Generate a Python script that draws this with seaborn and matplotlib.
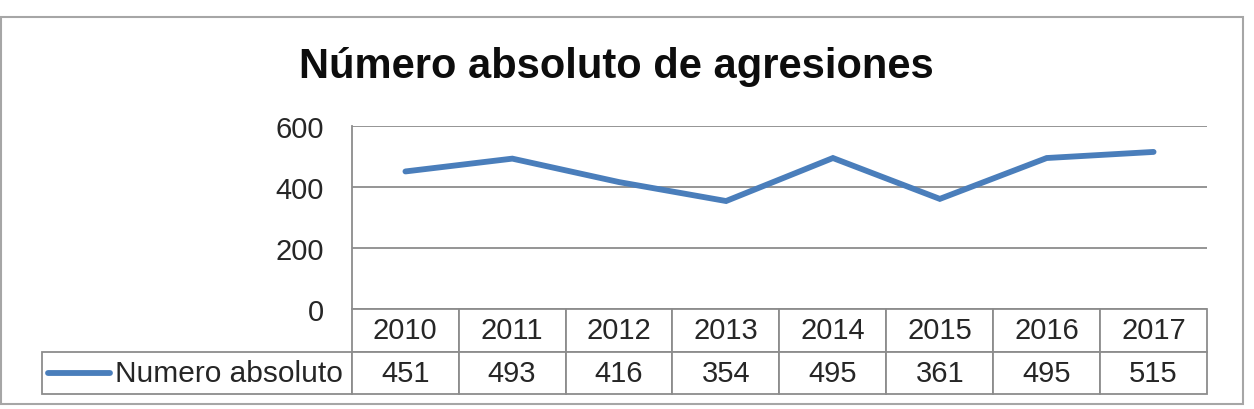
import matplotlib
matplotlib.use("Agg")
import matplotlib.pyplot as plt
import seaborn as sns
import pandas as pd
from matplotlib.patches import Rectangle

# --- data ---
years = ["2010", "2011", "2012", "2013", "2014", "2015", "2016", "2017"]
values = [451, 493, 416, 354, 495, 361, 495, 515]
series_name = "Numero absoluto"
title = "Número absoluto de agresiones"
yticks = [0, 200, 400, 600]

LINE_C = "#4A7EBB"
GRID_C = "#8C8C8C"
FS = 21

sns.set_theme(style="white")
plt.rcParams["font.family"] = ["Liberation Sans", "DejaVu Sans"]

W, H = 1254, 410
fig = plt.figure(figsize=(W / 100, H / 100), dpi=100)

# outer chart frame
fig.patches.append(Rectangle((1 / W, 1 - 405 / H), 1242 / W, 387 / H,
                             transform=fig.transFigure, fill=False,
                             edgecolor="#A6A6A6", lw=1.5))

# plot area (pixel box 352..1207 x 127..310)
ax = fig.add_axes([352 / W, 1 - 310 / H, 855 / W, 183 / H])

df = pd.DataFrame({"idx": range(len(years)), "val": values})
sns.lineplot(data=df, x="idx", y="val", ax=ax, color=LINE_C, lw=4.2,
             solid_capstyle="round", solid_joinstyle="miter")

ax.set_xlim(-0.5, len(years) - 0.5)
ax.set_ylim(0, 600)
ax.set_yticks(yticks)
ax.set_yticklabels([str(t) for t in yticks], fontsize=FS, color="#262626")
ax.tick_params(axis="y", length=0, pad=20)
ax.set_xticks([])
ax.set_xlabel("")
ax.set_ylabel("")
ax.grid(axis="y", color=GRID_C, lw=1.3)
for s in ["top", "right", "bottom"]:
    ax.spines[s].set_visible(False)
ax.spines["left"].set_color(GRID_C)
ax.spines["left"].set_linewidth(1.3)

# data table under the plot
x0 = (42 - 352) / 855
tbl = ax.table(cellText=[[""] + years, [""] + [str(v) for v in values]],
                colWidths=[310] + [107] * len(years), cellLoc="center",
                bbox=[x0, -85 / 183, 1 - x0, 85 / 183])
tbl.auto_set_font_size(False)
tbl.set_fontsize(FS)
for (r, c), cell in tbl.get_celld().items():
    cell.set_edgecolor(GRID_C)
    cell.set_linewidth(1.3)
    cell.get_text().set_color("#262626")
tbl[0, 0].visible_edges = ""

# legend key inside the table row
row_y = -85 / 183 * 0.75
ax.plot([(48 - 352) / 855, (110 - 352) / 855], [row_y, row_y], color=LINE_C,
        lw=4.2, solid_capstyle="round", transform=ax.transAxes, clip_on=False)
ax.text((343 - 352) / 855, row_y, series_name, transform=ax.transAxes,
        ha="right", va="center", fontsize=21.5, color="#262626")

fig.text((298 + 935) / 2 / W, 1 - 67 / H, title, ha="center", va="center",
         fontsize=30, fontweight="bold", color="#0D0D0D")

fig.savefig("out.png", dpi=100)
